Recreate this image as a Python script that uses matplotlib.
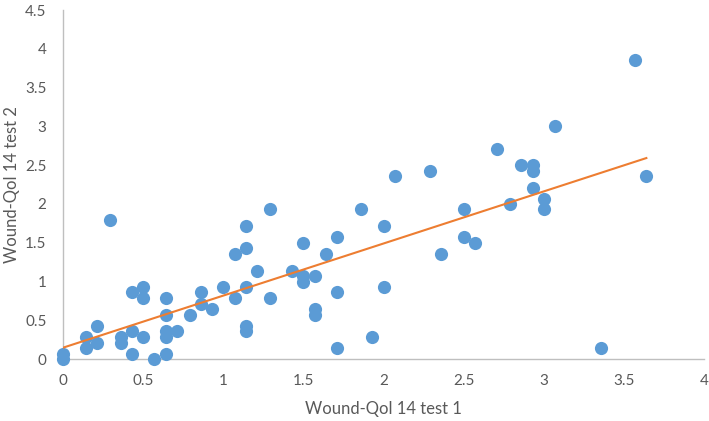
import matplotlib
matplotlib.use("Agg")
import matplotlib.pyplot as plt
import numpy as np

### DATA (mean scores, steps of 1/14) ###
test1 = [0.00, 0.00, 0.14, 0.14, 0.21, 0.21, 0.29, 0.36, 0.36, 0.43, 0.43, 0.43,
         0.50, 0.50, 0.50, 0.57, 0.64, 0.64, 0.64, 0.64, 0.64, 0.71, 0.79, 0.86,
         0.86, 0.93, 1.00, 1.07, 1.07, 1.14, 1.14, 1.14, 1.14, 1.14, 1.21, 1.29,
         1.29, 1.43, 1.50, 1.50, 1.50, 1.57, 1.57, 1.57, 1.64, 1.71, 1.71, 1.71,
         1.86, 1.93, 2.00, 2.00, 2.07, 2.29, 2.36, 2.50, 2.50, 2.57, 2.71, 2.79,
         2.86, 2.93, 2.93, 2.93, 3.00, 3.00, 3.07, 3.36, 3.57, 3.64]
test2 = [0.00, 0.07, 0.29, 0.14, 0.43, 0.21, 1.79, 0.29, 0.21, 0.86, 0.36, 0.07,
         0.93, 0.79, 0.29, 0.00, 0.79, 0.57, 0.36, 0.29, 0.07, 0.36, 0.57, 0.86,
         0.71, 0.64, 0.93, 0.79, 1.36, 1.71, 1.43, 0.93, 0.43, 0.36, 1.14, 1.93,
         0.79, 1.14, 1.50, 1.07, 1.00, 1.07, 0.64, 0.57, 1.36, 1.57, 0.86, 0.14,
         1.93, 0.29, 1.71, 0.93, 2.36, 2.43, 1.36, 1.93, 1.57, 1.50, 2.71, 2.00,
         2.50, 2.50, 2.43, 2.21, 2.07, 1.93, 3.00, 0.14, 3.86, 2.36]

xticks = [0, 0.5, 1, 1.5, 2, 2.5, 3, 3.5, 4]
yticks = [0, 0.5, 1, 1.5, 2, 2.5, 3, 3.5, 4, 4.5]

### LINEAR TRENDLINE ###
x = np.array(test1)
y = np.array(test2)
slope, intercept = np.polyfit(x, y, 1)
x_fit = np.array([x.min(), x.max()])

plt.rcParams['font.family'] = ['Lato', 'DejaVu Sans']
grey = '#595959'

fig = plt.figure(figsize=(7.09, 4.21), dpi=100)
ax = fig.add_axes([0.089, 0.147, 0.904, 0.829])

ax.scatter(x, y, s=90, color='#5B9BD5', linewidths=0, zorder=3, clip_on=False)
ax.plot(x_fit, slope * x_fit + intercept, color='#ED7D31', linewidth=1.5, zorder=4)

ax.set_xlim(0, 4)
ax.set_ylim(0, 4.5)
ax.set_xticks(xticks)
ax.set_yticks(yticks)
ax.set_xticklabels([f"{t:g}" for t in xticks])
ax.set_yticklabels([f"{t:g}" for t in yticks])
ax.tick_params(length=0, labelsize=11, colors=grey)
ax.tick_params(axis='x', pad=11)
ax.tick_params(axis='y', pad=12)

for side in ['top', 'right']:
    ax.spines[side].set_visible(False)
for side in ['left', 'bottom']:
    ax.spines[side].set_color('#BFBFBF')
    ax.spines[side].set_linewidth(1)

ax.set_xlabel("Wound-Qol 14 test 1", fontsize=12, color=grey, labelpad=9)
ax.set_ylabel("Wound-Qol 14 test 2", fontsize=12, color=grey, labelpad=4)

fig.savefig("out.png", dpi=100)
